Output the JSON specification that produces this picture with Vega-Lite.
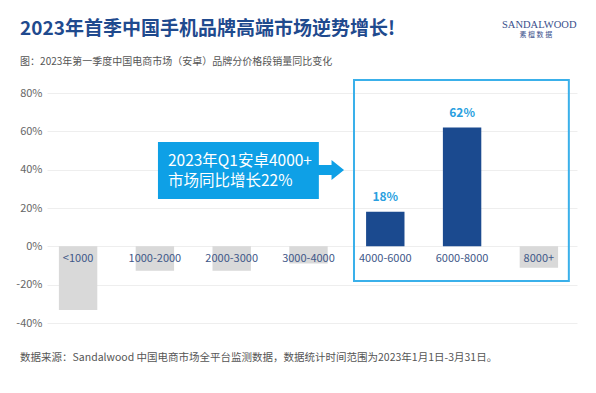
{
  "$schema": "https://vega.github.io/schema/vega-lite/v6.json",
  "width": 530,
  "height": 230,
  "autosize": "none",
  "padding": {"left": 47, "top": 93, "right": 19, "bottom": 70},
  "background": "white",
  "config": {"view": {"stroke": null}, "font": "Noto Sans CJK SC"},
  "resolve": {"axis": {"x": "independent", "y": "independent"}},
  "datasets": {
    "bars": [
      {"cat": "<1000", "v": -33.2},
      {"cat": "1000-2000", "v": -12.7},
      {"cat": "2000-3000", "v": -12.7},
      {"cat": "3000-4000", "v": -8.9},
      {"cat": "4000-6000", "v": 18},
      {"cat": "6000-8000", "v": 62},
      {"cat": "8000+", "v": -11.2}
    ]
  },
  "layer": [
    {
      "data": {"name": "bars"},
      "mark": {"type": "bar"},
      "encoding": {
        "x": {
          "field": "cat",
          "type": "nominal",
          "scale": {
            "domain": ["<1000", "1000-2000", "2000-3000", "3000-4000", "4000-6000", "6000-8000", "8000+"],
            "paddingInner": 0.5,
            "paddingOuter": 0.2005,
            "align": 0.386
          },
          "axis": null
        },
        "y": {
          "field": "v",
          "type": "quantitative",
          "scale": {"domain": [-40, 80], "nice": false},
          "axis": {
            "title": null,
            "values": [-40, -20, 0, 20, 40, 60, 80],
            "grid": true,
            "gridColor": "#eeeeee",
            "domain": false,
            "ticks": false,
            "labelOverlap": false,
            "labelPadding": 5,
            "labelFontSize": 11,
            "labelColor": "#666666",
            "labelFont": "Noto Sans CJK SC",
            "labelExpr": "datum.value + '%'"
          }
        },
        "color": {
          "condition": {"test": "datum.v > 0", "value": "#1b4a8f"},
          "value": "#d9d9d9"
        }
      }
    },
    {
      "data": {"name": "bars"},
      "mark": {"type": "text", "baseline": "middle", "dy": 13, "fontSize": 11, "color": "#3f5888"},
      "encoding": {
        "x": {"field": "cat", "type": "nominal", "axis": null},
        "y": {"datum": 0, "type": "quantitative", "axis": null},
        "text": {"field": "cat"}
      }
    },
    {
      "data": {"name": "bars"},
      "transform": [
        {"filter": "datum.v > 0"},
        {"calculate": "datum.v + '%'", "as": "lbl"}
      ],
      "mark": {"type": "text", "baseline": "bottom", "dy": -8, "fontSize": 12, "fontWeight": "bold", "color": "#2a9fe0"},
      "encoding": {
        "x": {"field": "cat", "type": "nominal", "axis": null},
        "y": {"field": "v", "type": "quantitative", "axis": null},
        "text": {"field": "lbl"}
      }
    },
    {
      "data": {"values": [{"c1": "4000-6000", "c2": "8000+", "top": 86.8, "bottom": -18.1}]},
      "mark": {"type": "rect", "fill": "transparent", "stroke": "#3ab0ea", "strokeWidth": 2},
      "encoding": {
        "x": {"field": "c1", "type": "nominal", "bandPosition": -0.315, "axis": null},
        "x2": {"field": "c2", "bandPosition": 1.28},
        "y": {"field": "top", "type": "quantitative", "axis": null},
        "y2": {"field": "bottom"}
      }
    },
    {
      "data": {"values": [{"c1": "1000-2000", "c2": "3000-4000", "top": 54.4, "bottom": 24.7}]},
      "mark": {"type": "rect", "color": "#0ea0e6"},
      "encoding": {
        "x": {"field": "c1", "type": "nominal", "bandPosition": 0.58, "axis": null},
        "x2": {"field": "c2", "bandPosition": 0.77},
        "y": {"field": "top", "type": "quantitative", "axis": null},
        "y2": {"field": "bottom"}
      }
    },
    {
      "data": {"values": [{"cat": "3000-4000", "yv": 39.8}]},
      "mark": {
        "type": "point",
        "filled": true,
        "opacity": 1,
        "color": "#0ea0e6",
        "size": 625,
        "shape": "M -1.1 -0.4 L 0 -0.4 L 0 -0.8 L 1 0 L 0 0.8 L 0 0.4 L -1.1 0.4 Z"
      },
      "encoding": {
        "x": {"field": "cat", "type": "nominal", "bandPosition": 1.1, "axis": null},
        "y": {"field": "yv", "type": "quantitative", "axis": null}
      }
    },
    {
      "data": {"values": [
        {"cat": "1000-2000", "t": "2023年Q1安卓4000+", "yv": 44.5},
        {"cat": "1000-2000", "t": "市场同比增长22%", "yv": 34.1}
      ]},
      "mark": {"type": "text", "align": "left", "baseline": "middle", "fontSize": 15.5, "color": "white"},
      "encoding": {
        "x": {"field": "cat", "type": "nominal", "bandPosition": 0.84, "axis": null},
        "y": {"field": "yv", "type": "quantitative", "axis": null},
        "text": {"field": "t"}
      }
    },
    {
      "data": {"values": [{"cat": "<1000", "t": "2023年首季中国手机品牌高端市场逆势增长!", "yv": 113.4}]},
      "mark": {"type": "text", "align": "left", "baseline": "middle", "fontSize": 19, "fontWeight": "bold", "color": "#1f4a8e"},
      "encoding": {
        "x": {"field": "cat", "type": "nominal", "bandPosition": -1.01, "axis": null},
        "y": {"field": "yv", "type": "quantitative", "axis": null},
        "text": {"field": "t"}
      }
    },
    {
      "data": {"values": [{"cat": "<1000", "t": "图：2023年第一季度中国电商市场（安卓）品牌分价格段销量同比变化", "yv": 96.1}]},
      "mark": {"type": "text", "align": "left", "baseline": "middle", "fontSize": 10, "color": "#555555"},
      "encoding": {
        "x": {"field": "cat", "type": "nominal", "bandPosition": -1.01, "axis": null},
        "y": {"field": "yv", "type": "quantitative", "axis": null},
        "text": {"field": "t"}
      }
    },
    {
      "data": {"values": [{"cat": "8000+", "t": "SANDALWOOD", "yv": 115.5}]},
      "mark": {"type": "text", "align": "left", "baseline": "middle", "fontSize": 10.5, "font": "Liberation Serif", "color": "#3a4f8c"},
      "encoding": {
        "x": {"field": "cat", "type": "nominal", "bandPosition": -0.46, "axis": null},
        "y": {"field": "yv", "type": "quantitative", "axis": null},
        "text": {"field": "t"}
      }
    },
    {
      "data": {"values": [{"cat": "8000+", "t": "素 檀 数 据", "yv": 110.2}]},
      "mark": {"type": "text", "align": "center", "baseline": "middle", "fontSize": 7, "color": "#3a4f8c"},
      "encoding": {
        "x": {"field": "cat", "type": "nominal", "bandPosition": 0.42, "axis": null},
        "y": {"field": "yv", "type": "quantitative", "axis": null},
        "text": {"field": "t"}
      }
    },
    {
      "data": {"values": [{"cat": "<1000", "t": "数据来源：Sandalwood 中国电商市场全平台监测数据，数据统计时间范围为2023年1月1日-3月31日。", "yv": -58.3}]},
      "mark": {"type": "text", "align": "left", "baseline": "middle", "fontSize": 10.5, "color": "#555555"},
      "encoding": {
        "x": {"field": "cat", "type": "nominal", "bandPosition": -1.01, "axis": null},
        "y": {"field": "yv", "type": "quantitative", "axis": null},
        "text": {"field": "t"}
      }
    }
  ]
}
